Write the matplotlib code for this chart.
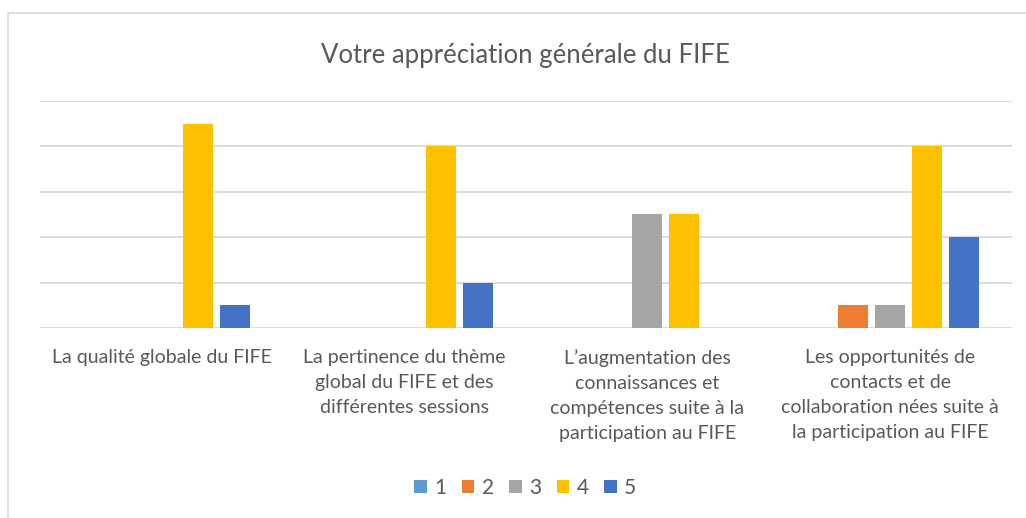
import matplotlib
matplotlib.use('Agg')
import matplotlib.pyplot as plt
import numpy as np
from matplotlib.patches import Rectangle

# data
categories = [
    "La qualité globale du FIFE",
    "La pertinence du thème\nglobal du FIFE et des\ndifférentes sessions",
    "L’augmentation des\nconnaissances et\ncompétences suite à la\nparticipation au FIFE",
    "Les opportunités de\ncontacts et de\ncollaboration nées suite à\nla participation au FIFE",
]
series_names = ["1", "2", "3", "4", "5"]
s1 = [0, 0, 0, 0]
s2 = [0, 0, 0, 1]
s3 = [0, 0, 5, 1]
s4 = [9, 8, 5, 8]
s5 = [1, 2, 0, 4]
colors = ["#5B9BD5", "#ED7D31", "#A5A5A5", "#FFC000", "#4472C4"]

plt.rcParams['font.family'] = ['Lato', 'DejaVu Sans']
txt = '#595959'

fig = plt.figure(figsize=(10.26, 5.18), dpi=100)
ax = fig.add_axes([0.039, 0.367, 0.947, 0.438])

x = np.arange(len(categories))
step = 0.152
width = 0.123
for i, (vals, c) in enumerate(zip([s1, s2, s3, s4, s5], colors)):
    ax.bar(x + (i - 2) * step, vals, width, color=c, label=series_names[i], zorder=3)

ax.set_xlim(-0.5, 3.5)
ax.set_ylim(0, 10)
ax.set_yticks(range(0, 11, 2))
ax.set_yticklabels([])
ax.tick_params(axis='y', length=0)
ax.grid(axis='y', color='#D9D9D9', linewidth=1.3, zorder=0)
for s in ax.spines.values():
    s.set_visible(False)

ax.set_xticks(x)
ax.set_xticklabels(categories, fontsize=14, color=txt, linespacing=1.58, va='top')
ax.tick_params(axis='x', length=0, pad=15)

fig.text(0.512, 0.892, "Votre appréciation générale du FIFE", ha='center', va='center',
         fontsize=18.5, color=txt)

fig.legend(loc='center', bbox_to_anchor=(0.512, 0.058), ncol=5, frameon=False,
           handlelength=0.6, handleheight=0.6, handletextpad=0.35, columnspacing=0.75,
           fontsize=15, labelcolor=txt)

# chart border
fig.patches.append(Rectangle((8 / 1026, -0.05), 1.1, 1.025,
                             transform=fig.transFigure, fill=False,
                             edgecolor='#D9D9D9', linewidth=1.2))

fig.savefig('out.png', dpi=100)
